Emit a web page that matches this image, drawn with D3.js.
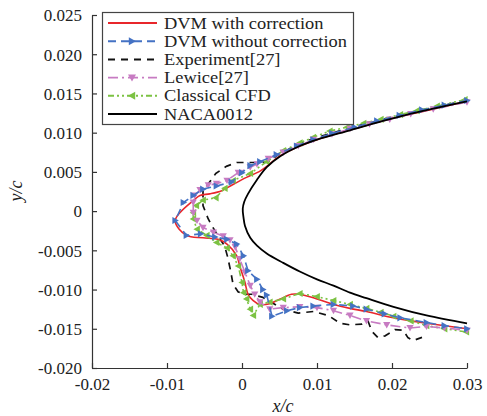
<!DOCTYPE html>
<html><head><meta charset="utf-8">
<script src="https://cdn.jsdelivr.net/npm/d3@7"></script>
<style>body{margin:0;background:#fff}svg{display:block}text{font-family:"Liberation Serif","Times New Roman",serif;fill:#222}</style>
</head><body>
<svg id="c" width="487" height="416"></svg>
<script>
const xTicks = [-0.02,-0.01,0,0.01,0.02,0.03];
const xTickLabels = ["-0.02","-0.01","0","0.01","0.02","0.03"];
const yTicks = [-0.02,-0.015,-0.01,-0.005,0,0.005,0.01,0.015,0.02,0.025];
const yTickLabels = ["-0.020","-0.015","-0.010","-0.005","0","0.005","0.010","0.015","0.020","0.025"];
const seriesNames = ["DVM with correction","DVM without correction","Experiment[27]","Lewice[27]","Classical CFD","NACA0012"];

const dvmCorr = [[0.030,0.0140],[0.025,0.0129],[0.020,0.0118],[0.015,0.0105],[0.010,0.0091],[0.0075,0.0082],[0.005,0.0070],[0.0033,0.0057],[0.0024,0.0051],[0.0006,0.0043],[-0.0012,0.0034],[-0.0027,0.0026],[-0.0043,0.0022],[-0.0056,0.0020],[-0.0063,0.0015],[-0.0089,-0.0012],[-0.0074,-0.0031],[-0.0052,-0.0034],[-0.0032,-0.0036],[-0.0020,-0.0042],[-0.0007,-0.0057],[-0.0003,-0.0070],[0.0004,-0.0091],[0.0008,-0.0106],[0.0015,-0.0114],[0.0024,-0.0119],[0.0037,-0.0118],[0.0051,-0.0112],[0.0066,-0.0106],[0.0077,-0.0106],[0.0100,-0.0112],[0.0122,-0.0119],[0.0144,-0.0124],[0.0166,-0.0128],[0.0202,-0.0136],[0.0246,-0.0143],[0.0300,-0.0150]];
const dvmNoCorr = [[0.030,0.0141],[0.027,0.0135],[0.024,0.0129],[0.021,0.0122],[0.018,0.0115],[0.015,0.0107],[0.012,0.0099],[0.0095,0.0091],[0.0073,0.0083],[0.0046,0.0072],[0.0024,0.0063],[0.0011,0.0058],[0.0000,0.0049],[-0.0014,0.0037],[-0.0034,0.0032],[-0.0052,0.0028],[-0.0065,0.0020],[-0.0078,0.0011],[-0.0089,-0.0012],[-0.0074,-0.0031],[-0.0055,-0.0029],[-0.0036,-0.0033],[-0.0020,-0.0036],[-0.0007,-0.0042],[0.0002,-0.0057],[0.0008,-0.0076],[0.0020,-0.0087],[0.0028,-0.0100],[0.0033,-0.0107],[0.0040,-0.0134],[0.0060,-0.0127],[0.0077,-0.0123],[0.0095,-0.0121],[0.0122,-0.0119],[0.0148,-0.0121],[0.0166,-0.0125],[0.0190,-0.0131],[0.0211,-0.0136],[0.0246,-0.0142],[0.0270,-0.0146],[0.0300,-0.0150]];
const experiment = [[0.030,0.0141],[0.025,0.0131],[0.020,0.0120],[0.0144,0.0106],[0.010,0.0094],[0.0077,0.0086],[0.005,0.0073],[0.0035,0.0063],[0.0024,0.0062],[0.0011,0.0062],[-0.0007,0.0062],[-0.0021,0.0057],[-0.0035,0.0048],[-0.0040,0.0041],[-0.0052,0.0026],[-0.0052,0.0007],[-0.0045,-0.0010],[-0.0040,-0.0019],[-0.0023,-0.0045],[-0.0019,-0.0059],[-0.0015,-0.0077],[-0.0012,-0.0093],[-0.0005,-0.0103],[0.0004,-0.0106],[0.0013,-0.0106],[0.0028,-0.0110],[0.0037,-0.0115],[0.0055,-0.0125],[0.0075,-0.0130],[0.0095,-0.0128],[0.0115,-0.0133],[0.0131,-0.0143],[0.0144,-0.0145],[0.0160,-0.0144],[0.0168,-0.0140],[0.0173,-0.0153],[0.0181,-0.0161],[0.0191,-0.0159],[0.0204,-0.0151],[0.0215,-0.0152],[0.0221,-0.0161],[0.0228,-0.0165],[0.0240,-0.0161]];
const lewice = [[0.030,0.0139],[0.0255,0.0130],[0.0225,0.0124],[0.0197,0.0117],[0.017,0.0111],[0.0144,0.0105],[0.012,0.0098],[0.0095,0.0091],[0.0075,0.0083],[0.0055,0.0075],[0.0035,0.0067],[0.0020,0.0060],[0.0011,0.0056],[-0.0005,0.0049],[-0.0020,0.0039],[-0.0034,0.0035],[-0.0045,0.0033],[-0.0056,0.0027],[-0.0063,0.0020],[-0.0065,0.0011],[-0.0065,-0.0002],[-0.0060,-0.0012],[-0.0052,-0.0021],[-0.0038,-0.0027],[-0.0025,-0.0032],[-0.0016,-0.0037],[-0.0009,-0.0046],[-0.0003,-0.0061],[0.0004,-0.0078],[0.0011,-0.0095],[0.0017,-0.0106],[0.0024,-0.0116],[0.0037,-0.0125],[0.0055,-0.0123],[0.0077,-0.0122],[0.0100,-0.0123],[0.0122,-0.0127],[0.0144,-0.0133],[0.0166,-0.0140],[0.0193,-0.0145],[0.0224,-0.0149],[0.0246,-0.0147],[0.0270,-0.0149],[0.0300,-0.0152]];
const classicalCFD = [[0.0297,0.0142],[0.026,0.0134],[0.0233,0.0128],[0.0211,0.0123],[0.0185,0.0117],[0.0162,0.0112],[0.014,0.0107],[0.0117,0.0102],[0.0095,0.0094],[0.0077,0.0087],[0.0055,0.0077],[0.0033,0.0063],[0.0011,0.0048],[-0.0012,0.0039],[-0.0023,0.0029],[-0.0035,0.0017],[-0.0052,0.0014],[-0.0061,0.0007],[-0.0065,-0.0002],[-0.0065,-0.0010],[-0.0060,-0.0023],[-0.0047,-0.0031],[-0.0034,-0.0040],[-0.0020,-0.0047],[-0.0012,-0.0057],[-0.0005,-0.0070],[0.0000,-0.0091],[0.0002,-0.0104],[0.0006,-0.0112],[0.0011,-0.0125],[0.0015,-0.0133],[0.0024,-0.0119],[0.0037,-0.0116],[0.0055,-0.0112],[0.0077,-0.0105],[0.0100,-0.0109],[0.0122,-0.0114],[0.0144,-0.0119],[0.0166,-0.0124],[0.0185,-0.0129],[0.0202,-0.0134],[0.0225,-0.0140],[0.0246,-0.0146],[0.0270,-0.0150],[0.0299,-0.0154]];
const naca0012 = [[0.030,0.0140],[0.0233,0.0126],[0.0188,0.0115],[0.0144,0.0103],[0.010,0.0091],[0.0077,0.0083],[0.0051,0.0070],[0.0033,0.0056],[0.0020,0.0040],[0.0008,0.0022],[0.0003,0.0012],[0.0001,0.0003],[0.0002,-0.0008],[0.0004,-0.0019],[0.0011,-0.0034],[0.0020,-0.0044],[0.0033,-0.0054],[0.0055,-0.0066],[0.0077,-0.0077],[0.010,-0.0087],[0.0122,-0.0095],[0.0144,-0.0104],[0.0166,-0.0111],[0.0202,-0.0122],[0.0246,-0.0133],[0.030,-0.0143]];

const svg = d3.select("#c");
const x = d3.scaleLinear().domain([-0.02,0.03]).range([92,467]);
const y = d3.scaleLinear().domain([-0.02,0.025]).range([368,15]);
const axisColor = "#333";

const gx = svg.append("g").attr("transform","translate(0,368)")
  .call(d3.axisBottom(x).tickValues(xTicks).tickFormat((d,i)=>xTickLabels[i]).tickSizeInner(-5).tickSizeOuter(0).tickPadding(10));
const gy = svg.append("g").attr("transform","translate(92,0)")
  .call(d3.axisLeft(y).tickValues(yTicks).tickFormat((d,i)=>yTickLabels[i]).tickSizeInner(-5).tickSizeOuter(0).tickPadding(10));
[gx,gy].forEach(g=>{
  g.select(".domain").attr("stroke",axisColor).attr("stroke-width",1.2);
  g.selectAll(".tick line").attr("stroke",axisColor).attr("stroke-width",1.2);
  g.selectAll(".tick text").attr("font-size",17).attr("fill","#222").attr("font-family","Liberation Serif, Times New Roman, serif");
});
gy.selectAll(".tick text").attr("dy","0.34em");

svg.append("text").attr("x",283).attr("y",412).attr("text-anchor","middle").attr("font-size",18).attr("font-style","italic").text("x/c");
svg.append("text").attr("transform","translate(22,191) rotate(-90)").attr("text-anchor","middle").attr("font-size",18).attr("font-style","italic").text("y/c");

const styles = [
  {data:dvmCorr, color:"#e8262b", dash:null, w:1.6, marker:null, curve:d3.curveCatmullRom.alpha(0.5)},
  {data:dvmNoCorr, color:"#4472c4", dash:"8,5", w:1.6, marker:"right", curve:d3.curveLinear},
  {data:experiment, color:"#111", dash:"7,6", w:1.7, marker:null, curve:d3.curveLinear},
  {data:lewice, color:"#c77bc2", dash:"10,4,2,4", w:1.6, marker:"down", curve:d3.curveLinear},
  {data:classicalCFD, color:"#7cc243", dash:"6,3,2,3,2,3", w:1.6, marker:"left", curve:d3.curveLinear},
  {data:naca0012, color:"#000", dash:null, w:1.8, marker:null, curve:d3.curveCatmullRom.alpha(0.5)}
];

function tri(cx,cy,dir,s){
  s = s||3.6;
  if(dir==="right") return `M${cx+s},${cy}L${cx-s*0.8},${cy-s}L${cx-s*0.8},${cy+s}Z`;
  if(dir==="left") return `M${cx-s},${cy}L${cx+s*0.8},${cy-s}L${cx+s*0.8},${cy+s}Z`;
  return `M${cx},${cy+s}L${cx-s},${cy-s*0.8}L${cx+s},${cy-s*0.8}Z`;
}

const plot = svg.append("g");
const order = [2,0,4,3,1,5];
order.forEach(i=>{
  const s = styles[i];
  const line = d3.line().x(d=>x(d[0])).y(d=>y(d[1])).curve(s.curve);
  plot.append("path").attr("d",line(s.data)).attr("fill","none").attr("stroke",s.color)
    .attr("stroke-width",s.w).attr("stroke-dasharray",s.dash).attr("stroke-linejoin","round");
  if(s.marker){
    plot.append("g").selectAll("path").data(s.data).join("path")
      .attr("d",d=>tri(x(d[0]),y(d[1]),s.marker)).attr("fill",s.color);
  }
});

const lg = svg.append("g");
lg.append("rect").attr("x",102.5).attr("y",12.5).attr("width",251).attr("height",112).attr("fill","#fff").attr("stroke","#444").attr("stroke-width",1.2);
const rowY = [23,41.2,59.4,77.6,95.8,114];
styles.forEach((s,i)=>{
  const yy = rowY[i];
  lg.append("line").attr("x1",108).attr("x2",157).attr("y1",yy).attr("y2",yy).attr("stroke",s.color)
    .attr("stroke-width",s.w+0.3).attr("stroke-dasharray",s.dash);
  if(s.marker) lg.append("path").attr("d",tri(132,yy,s.marker,4)).attr("fill",s.color);
  lg.append("text").attr("transform",`translate(164,${yy+5.5}) scale(1.13,1)`).attr("font-size",16.3).text(seriesNames[i]);
});
</script>
</body></html>
